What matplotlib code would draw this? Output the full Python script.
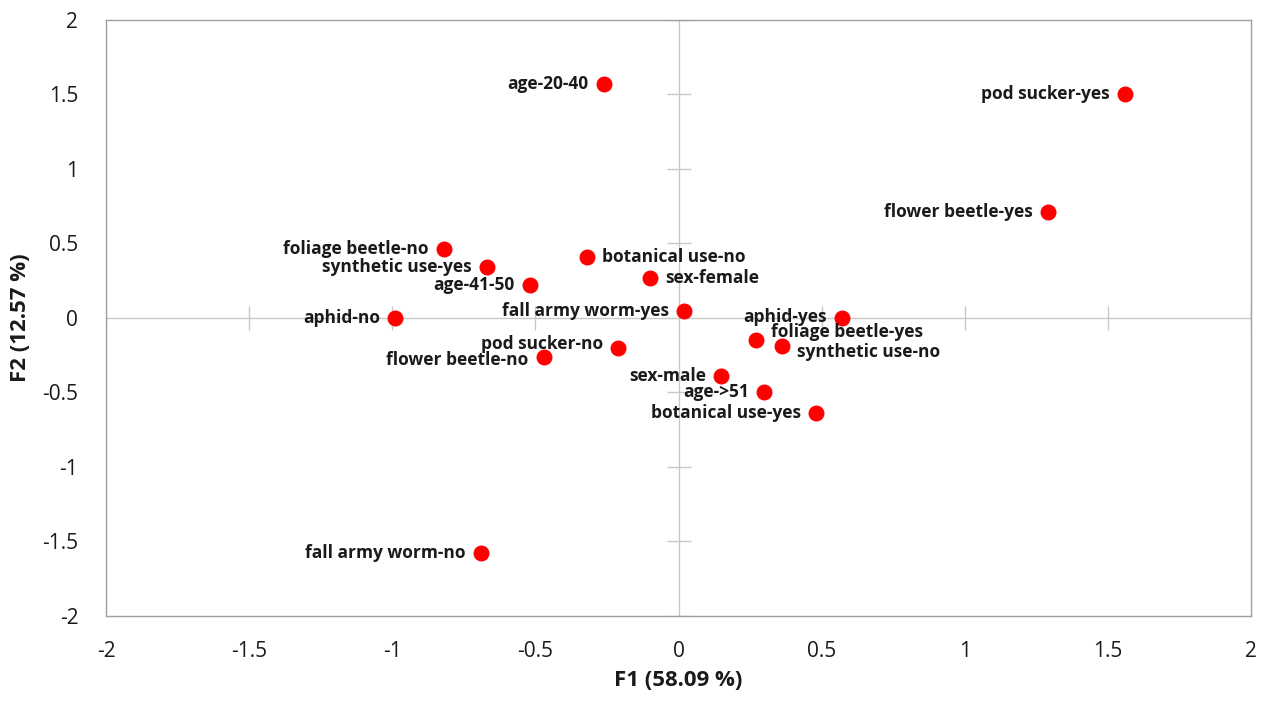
import matplotlib.pyplot as plt
import numpy as np

# Correspondence analysis map: F1 vs F2
labels = ['age-20-40', 'pod sucker-yes', 'flower beetle-yes', 'foliage beetle-no',
          'synthetic use-yes', 'botanical use-no', 'sex-female', 'age-41-50',
          'fall army worm-yes', 'aphid-no', 'aphid-yes', 'foliage beetle-yes',
          'synthetic use-no', 'pod sucker-no', 'flower beetle-no', 'sex-male',
          'age->51', 'botanical use-yes', 'fall army worm-no']
f1 = [-0.26, 1.56, 1.29, -0.82, -0.67, -0.32, -0.10, -0.52,
      0.02, -0.99, 0.57, 0.27, 0.36, -0.21, -0.47, 0.15,
      0.30, 0.48, -0.69]
f2 = [1.57, 1.50, 0.71, 0.46, 0.34, 0.41, 0.27, 0.22,
      0.05, 0.00, 0.00, -0.15, -0.19, -0.20, -0.26, -0.39,
      -0.50, -0.64, -1.58]
# label side: 'l' = text left of point, 'r' = right
sides = ['l', 'l', 'l', 'l', 'l', 'r', 'r', 'l',
         'l', 'l', 'l', 'r', 'r', 'l', 'l', 'l',
         'l', 'l', 'l']
dy = {'foliage beetle-yes': 6, 'synthetic use-no': -4, 'pod sucker-no': 3,
      'age->51': 0, 'aphid-yes': 1, 'flower beetle-no': -2}

ticks = [-2, -1.5, -1, -0.5, 0, 0.5, 1, 1.5, 2]
tick_labels = ['-2', '-1.5', '-1', '-0.5', '0', '0.5', '1', '1.5', '2']

plt.rcParams['font.family'] = ['Open Sans', 'DejaVu Sans']

fig = plt.figure(figsize=(12.63, 7.04), dpi=100)
ax = fig.add_axes([0.084, 0.125, 0.9065, 0.8466])
ax.set_xlim(-2, 2)
ax.set_ylim(-2, 2)

# zero lines with cross ticks
ax.axhline(0, color='#c8c8c8', lw=1, zorder=1)
ax.axvline(0, color='#c8c8c8', lw=1, zorder=1)
inner = [t for t in ticks if t != 0]
ax.plot(inner, [0] * len(inner), ls='none', marker='|', ms=17, mew=1, color='#c8c8c8', zorder=1)
ax.plot([0] * len(inner), inner, ls='none', marker='_', ms=17, mew=1, color='#c8c8c8', zorder=1)

ax.scatter(f1, f2, s=110, color='#ff0000', zorder=3)

for name, x, y, s in zip(labels, f1, f2, sides):
    off = dy.get(name, 0)
    if s == 'l':
        ax.annotate(name, (x, y), xytext=(-11, off), textcoords='offset points',
                    ha='right', va='center', fontsize=12.5, fontweight='bold', color='#1a1a1a')
    else:
        ax.annotate(name, (x, y), xytext=(11, off), textcoords='offset points',
                    ha='left', va='center', fontsize=12.5, fontweight='bold', color='#1a1a1a')

ax.set_xticks(ticks)
ax.set_xticklabels(tick_labels)
ax.set_yticks(ticks)
ax.set_yticklabels(tick_labels)
ax.tick_params(axis='x', length=0, labelsize=15, colors='#1a1a1a', pad=18)
ax.tick_params(axis='y', length=0, labelsize=15, colors='#1a1a1a', pad=20)
for sp in ax.spines.values():
    sp.set_color('#a0a0a0')
    sp.set_linewidth(1)

ax.set_xlabel('F1 (58.09 %)', fontsize=16, fontweight='bold', color='#1a1a1a', labelpad=6)
ax.set_ylabel('F2 (12.57 %)', fontsize=16, fontweight='bold', color='#1a1a1a', labelpad=8)

fig.savefig('out.png', dpi=100)
plt.close(fig)
